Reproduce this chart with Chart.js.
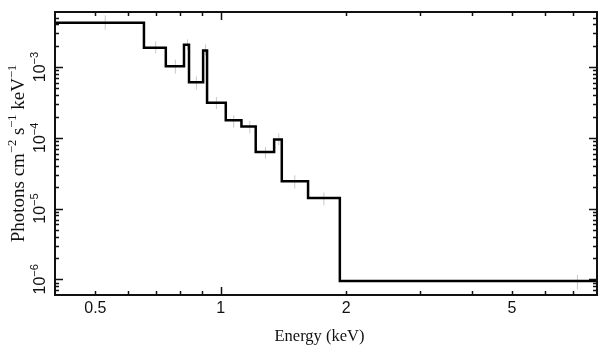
<!DOCTYPE html>
<html><head><meta charset="utf-8">
<script src="https://cdn.jsdelivr.net/npm/chart.js@4/dist/chart.umd.min.js"></script>
<style>html,body{margin:0;padding:0;background:#fff}</style>
</head><body>
<canvas id="c" width="609" height="357"></canvas>
<script>
// ---- data ----
const binEdges  = [0.4, 0.654, 0.738, 0.816, 0.839, 0.907, 0.927, 1.028, 1.121, 1.213, 1.343, 1.401, 1.620, 1.931, 8.0];
const binLevels = [4.24e-3, 1.88e-3, 1.03e-3, 2.07e-3, 6.08e-4, 1.72e-3, 3.14e-4, 1.77e-4, 1.45e-4, 6.31e-5, 9.44e-5, 2.43e-5, 1.41e-5, 9.5e-7];
const dataEnergy = [0.528, 0.698, 0.778, 0.832, 0.874, 0.919, 0.976, 1.074, 1.174, 1.28, 1.378, 1.505, 1.768, 7.18];
const errHigh = [5.37e-3, 2.31e-3, 1.27e-3, 2.46e-3, 7.39e-4, 2.09e-3, 3.77e-4, 2.08e-4, 1.73e-4, 7.41e-5, 1.15e-4, 2.95e-5, 1.68e-5, 1.16e-6];
const errLow  = [3.37e-3, 1.56e-3, 8.07e-4, 1.75e-3, 4.80e-4, 1.46e-3, 2.55e-4, 1.39e-4, 1.15e-4, 5.08e-5, 7.83e-5, 1.92e-5, 1.11e-5, 7.18e-7];
const xTickValues = [0.5, 1, 2, 5];
const xTickLabels = ['0.5', '1', '2', '5'];
const yDecades = [-6, -5, -4, -3];
const xRange = [0.4, 8];
const yRange = [6e-7, 6e-3];
const xTitle = 'Energy (keV)';
const yTitleParts = [['Photons cm', false], ['\u22122', true], [' s', false], ['\u22121', true], [' keV', false], ['\u22121', true]];

// ---- build datasets ----
const stepData = binLevels.map((v, i) => ({x: binEdges[i], y: v}));
stepData.push({x: binEdges[binEdges.length - 1], y: binLevels[binLevels.length - 1]});
const errData = [];
dataEnergy.forEach((e, i) => {
  errData.push({x: e, y: errLow[i]});
  errData.push({x: e, y: errHigh[i]});
  errData.push({x: e, y: null});
});

const SANS = '"Liberation Sans", Arial, Helvetica, sans-serif';
const SERIF = '"Liberation Serif", "Times New Roman", serif';

const framePlugin = {
  id: 'frame',
  afterDraw(chart) {
    const ctx = chart.ctx, a = chart.chartArea;
    const xs = chart.scales.x, ys = chart.scales.y;
    ctx.save();
    ctx.strokeStyle = '#111';
    ctx.lineWidth = 1.5;
    ctx.beginPath();
    for (let d = -1; d <= 1; d++) {
      for (let k = 1; k <= 9; k++) {
        const v = k * Math.pow(10, d);
        if (v <= xRange[0] || v >= xRange[1]) continue;
        const px = Math.round(xs.getPixelForValue(v)) + 0.5;
        const len = (k === 1) ? 8 : 4;
        ctx.moveTo(px, a.bottom); ctx.lineTo(px, a.bottom - len);
        ctx.moveTo(px, a.top); ctx.lineTo(px, a.top + len);
      }
    }
    for (let d = -7; d <= -2; d++) {
      for (let k = 1; k <= 9; k++) {
        const v = k * Math.pow(10, d);
        if (v <= yRange[0] || v >= yRange[1]) continue;
        const py = Math.round(ys.getPixelForValue(v)) + 0.5;
        const len = (k === 1) ? 8 : 4;
        ctx.moveTo(a.left, py); ctx.lineTo(a.left + len, py);
        ctx.moveTo(a.right, py); ctx.lineTo(a.right - len, py);
      }
    }
    ctx.stroke();
    ctx.lineWidth = 2;
    ctx.strokeRect(a.left, a.top, a.right - a.left, a.bottom - a.top);

    ctx.fillStyle = '#111';
    ctx.font = '16px ' + SANS;
    ctx.textAlign = 'center';
    ctx.textBaseline = 'alphabetic';
    xTickValues.forEach((v, i) => {
      ctx.fillText(xTickLabels[i], xs.getPixelForValue(v), a.bottom + 18);
    });
    yDecades.forEach(n => {
      const py = ys.getPixelForValue(Math.pow(10, n));
      ctx.save();
      ctx.translate(45, py);
      ctx.rotate(-Math.PI / 2);
      ctx.textAlign = 'left';
      ctx.font = '16px ' + SANS;
      const w1 = ctx.measureText('10').width;
      ctx.font = '11px ' + SANS;
      const exp = '\u2212' + Math.abs(n);
      const w2 = ctx.measureText(exp).width;
      const x0 = -(w1 + w2) / 2;
      ctx.font = '16px ' + SANS;
      ctx.fillText('10', x0, 0);
      ctx.font = '11px ' + SANS;
      ctx.fillText(exp, x0 + w1, -7);
      ctx.restore();
    });
    ctx.font = '16.5px ' + SERIF;
    ctx.textAlign = 'center';
    ctx.fillText(xTitle, 319.5, 341);
    ctx.save();
    ctx.translate(24, (a.top + a.bottom) / 2);
    ctx.rotate(-Math.PI / 2);
    ctx.textAlign = 'left';
    const big = '19px ' + SERIF, small = '12.5px ' + SERIF;
    let total = 0;
    yTitleParts.forEach(([t, sup]) => { ctx.font = sup ? small : big; total += ctx.measureText(t).width; });
    let x = -total / 2;
    yTitleParts.forEach(([t, sup]) => {
      ctx.font = sup ? small : big;
      ctx.fillText(t, x, sup ? -8 : 0);
      x += ctx.measureText(t).width;
    });
    ctx.restore();
    ctx.restore();
  }
};

new Chart(document.getElementById('c'), {
  type: 'line',
  data: {
    datasets: [
      {
        label: 'model',
        data: stepData,
        stepped: true,
        borderColor: '#000',
        borderWidth: 2.5,
        pointRadius: 0,
        fill: false,
        order: 1
      },
      {
        label: 'data',
        data: errData,
        borderColor: '#c8c8c8',
        borderWidth: 1,
        pointRadius: 0,
        spanGaps: false,
        fill: false,
        order: 2
      }
    ]
  },
  options: {
    responsive: false,
    animation: false,
    devicePixelRatio: 1,
    layout: {padding: {top: 12, right: 12, left: 0, bottom: 0}},
    plugins: {legend: {display: false}, tooltip: {enabled: false}},
    scales: {
      x: {
        type: 'logarithmic', min: xRange[0], max: xRange[1],
        grid: {display: false}, border: {display: false},
        ticks: {display: false},
        afterFit(s) { s.height = 62; }
      },
      y: {
        type: 'logarithmic', min: yRange[0], max: yRange[1],
        grid: {display: false}, border: {display: false},
        ticks: {display: false},
        afterFit(s) { s.width = 55; }
      }
    }
  },
  plugins: [framePlugin]
});
</script>
</body></html>
